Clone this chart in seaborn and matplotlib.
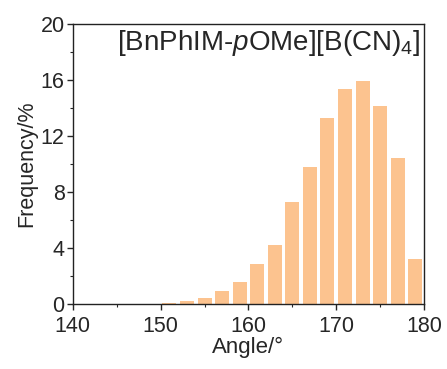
import numpy as np
import pandas as pd
import matplotlib
matplotlib.use("Agg")
import matplotlib.pyplot as plt
import seaborn as sns

bin_centers = [151, 153, 155, 157, 159, 161, 163, 165, 167, 169, 171, 173, 175, 177, 179]
frequency = [0.12, 0.24, 0.47, 0.95, 1.61, 2.87, 4.27, 7.33, 9.80, 13.29, 15.33, 15.90, 14.12, 10.42, 3.27]
bin_edges = list(range(150, 182, 2))
x_ticks = [140, 150, 160, 170, 180]
y_ticks = [0, 4, 8, 12, 16, 20]
label_text = "[BnPhIM-$p$OMe][B(CN)$_4$]"

sns.set_style("ticks")
plt.rcParams['font.family'] = ['Liberation Sans', 'DejaVu Sans']
plt.rcParams['mathtext.fontset'] = 'custom'
plt.rcParams['mathtext.rm'] = 'Liberation Sans'
plt.rcParams['mathtext.it'] = 'Liberation Sans:italic'

df = pd.DataFrame({"angle": bin_centers, "freq": frequency})

fig = plt.figure(figsize=(4.47, 3.69), dpi=100)
ax = fig.add_axes([0.163, 0.1748, 0.7855, 0.7615])
sns.histplot(data=df, x="angle", weights="freq", bins=bin_edges, shrink=0.8,
             color="#FCC38F", alpha=1, edgecolor="none", linewidth=0, ax=ax)

ax.set_xlim(140, 180)
ax.set_ylim(0, 20)
ax.set_xticks(x_ticks)
ax.set_yticks(y_ticks)
ax.set_xticks(np.arange(145, 180, 10), minor=True)
ax.set_yticks(np.arange(2, 20, 4), minor=True)
ax.tick_params(axis='both', which='major', labelsize=15.5, length=4, width=1, direction='out')
ax.tick_params(axis='x', which='major', pad=4)
ax.tick_params(axis='y', which='major', pad=2)
ax.tick_params(axis='both', which='minor', length=2, width=0.8, direction='out')
ax.set_xlabel("Angle/°", fontsize=16, labelpad=0)
ax.set_ylabel("Frequency/%", fontsize=15.5, labelpad=2)
for s in ax.spines.values():
    s.set_visible(True)
    s.set_linewidth(1)
    s.set_color("#222222")
ax.text(0.99, 0.985, label_text, transform=ax.transAxes, ha='right', va='top', fontsize=20)

fig.savefig("out.png", dpi=100)
